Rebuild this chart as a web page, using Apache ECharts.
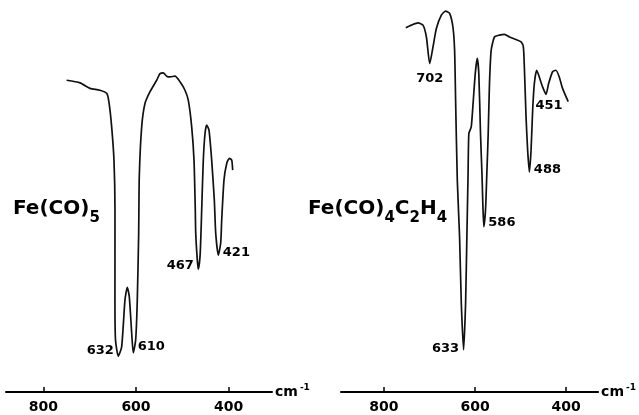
<!DOCTYPE html>
<html>
<head>
<meta charset="utf-8">
<script src="https://cdn.jsdelivr.net/npm/echarts@6/dist/echarts.min.js"></script>
<style>
html,body{margin:0;padding:0;background:#fff}
#chart{width:639px;height:415px}
</style>
</head>
<body>
<div id="chart"></div>
<script>
// Fe(CO)5 trace: wavenumber (cm-1) / transmittance (arbitrary %)
const feco5Wn = [750, 721, 699.5, 678, 663, 658, 652.6, 647.6, 645.4, 645.5, 644.3, 638.3, 631, 623.8, 618.8, 614.5, 609.3, 605.9, 600.7, 597.2, 594.2, 592.9, 587.7, 580.6, 569.7, 555.3, 548.1, 541, 533.6, 526.5, 515.7, 504.9, 494.1, 487, 479.6, 474.6, 471.8, 470.9, 467.5, 465.3, 461.6, 459.5, 458, 454.5, 450.8, 447.2, 442.2, 436.4, 430.7, 427.7, 422.1, 416.9, 414.7, 409.8, 403.9, 398.3, 393.1, 391]
const feco5T = [84.3, 83.6, 82.1, 81.6, 80.7, 78.0, 71.7, 62.7, 49.2, 24.9, 14.1, 9.7, 12.2, 24.9, 28.3, 25.8, 15.9, 10.6, 14.1, 24.9, 43.0, 58.2, 71.7, 78.0, 81.2, 84.3, 86.1, 86.3, 85.4, 85.2, 85.4, 83.9, 81.6, 78.9, 71.7, 62.7, 49.2, 43.0, 35.7, 33.2, 36.6, 43.0, 49.2, 62.7, 69.9, 72.2, 70.8, 62.7, 51.9, 43.0, 37.0, 40.3, 46.5, 57.3, 61.8, 63.2, 62.7, 60.0]

// Fe(CO)4C2H4 trace
const feco4Wn = [751.9, 739.4, 725, 714.1, 706.7, 699.4, 692.2, 684.8, 673.9, 664.5, 655.7, 648.5, 644.8, 642.6, 638.9, 633.9, 630.1, 625.1, 620.7, 617.9, 615.3, 613.5, 608.3, 604.8, 599.5, 595.2, 591.7, 588, 584.7, 582.9, 580.7, 577, 574.2, 571.1, 568.3, 564.6, 557.4, 546.4, 535.5, 524.6, 509.9, 499, 494, 491.8, 488.1, 484.6, 480.8, 477.1, 473.6, 469.9, 464.9, 460.5, 451.8, 444.3, 438.6, 429.9, 422.5, 415.3, 408, 395.6]
const feco4T = [98.5, 99.2, 99.8, 99.2, 96.0, 88.8, 93.3, 98.3, 101.9, 103.0, 102.4, 98.7, 92.4, 78.9, 57.3, 42.0, 24.0, 11.4, 24.0, 42.0, 58.7, 69.9, 71.7, 77.1, 86.1, 90.2, 86.1, 69.9, 58.7, 51.0, 44.7, 49.2, 58.7, 69.9, 83.4, 92.4, 96.0, 96.5, 96.7, 96.0, 95.3, 94.7, 93.3, 87.9, 74.4, 65.4, 59.5, 65.4, 76.2, 83.4, 87.0, 85.7, 82.5, 80.5, 83.4, 86.6, 87.0, 85.2, 82.1, 78.5]

const axisTicks = [800, 600, 400]

const feco5PeakNames = ['632', '610', '467', '421']
const feco5PeakWn = [638.3, 605.9, 465.3, 422.1]
const feco5PeakT = [9.7, 10.6, 33.2, 37.0]

const feco4PeakNames = ['702', '633', '586', '488', '451']
const feco4PeakWn = [699.4, 625.1, 580.7, 480.8, 444.3]
const feco4PeakT = [88.8, 11.4, 44.7, 59.5, 80.5]

const font = 'DejaVu Sans'

// label placement for each peak, same order as the name arrays
const feco5Place = [
    {position: 'left', offset: [0, -6]},
    {position: 'right', offset: [0, -6]},
    {position: 'left', offset: [0, -4]},
    {position: 'right', offset: [0, -3]},
]
const feco4Place = [
    {position: 'bottom', distance: 8, offset: [0, 0]},
    {position: 'left', offset: [0, -1]},
    {position: 'right', offset: [0, -4]},
    {position: 'right', offset: [0, -2]},
    {position: 'bottom', distance: 4, offset: [3, 0]},
]

function peakMarks(names, wn, t, place){
    return names.map((n, i) => ({
        name: n,
        coord: [wn[i], t[i]],
        label: Object.assign({distance: 4}, place[i])
    }))
}

function xAxisOf(idx, min, max){
    return {
        gridIndex: idx,
        type: 'value',
        inverse: true,
        min: min,
        max: max,
        splitLine: {show: false},
        axisLine: {lineStyle: {color: '#000', width: 2}},
        axisTick: {
            inside: true,
            length: 5,
            customValues: axisTicks,
            lineStyle: {color: '#000', width: 1.5}
        },
        axisLabel: {
            customValues: axisTicks,
            margin: 8,
            color: '#000',
            fontFamily: font,
            fontWeight: 'bold',
            fontSize: 14
        },
        name: '{a|cm}{b|-1}',
        nameLocation: 'start',
        nameGap: 3,
        nameTextStyle: {
            rich: {
                a: {fontFamily: font, fontWeight: 'bold', fontSize: 14, color: '#000'},
                b: {fontFamily: font, fontWeight: 'bold', fontSize: 9, color: '#000', padding: [0, 0, 8, 2]}
            }
        }
    }
}

function lineOf(idx, wn, t, names, pwn, pt, place){
    return {
        type: 'line',
        xAxisIndex: idx,
        yAxisIndex: idx,
        data: wn.map((w, i) => [w, t[i]]),
        showSymbol: false,
        smooth: 0.2,
        lineStyle: {color: '#111', width: 1.7},
        markPoint: {
            symbol: 'circle',
            symbolSize: 1,
            itemStyle: {color: 'rgba(0,0,0,0)'},
            label: {
                show: true,
                formatter: '{b}',
                color: '#000',
                fontFamily: font,
                fontWeight: 'bold',
                fontSize: 13
            },
            data: peakMarks(names, pwn, pt, place)
        }
    }
}

const subRich = {
    a: {fontFamily: font, fontWeight: 'bold', fontSize: 20, color: '#000'},
    s: {fontFamily: font, fontWeight: 'bold', fontSize: 15, color: '#000', padding: [19, 0, 0, 0]}
}

const option = {
    animation: false,
    backgroundColor: '#fff',
    title: [
        {text: '{a|Fe(CO)}{s|5}', left: 13, top: 192, padding: 0, textStyle: {rich: subRich}},
        {text: '{a|Fe(CO)}{s|4}{a|C}{s|2}{a|H}{s|4}', left: 308, top: 192, padding: 0, textStyle: {rich: subRich}}
    ],
    grid: [
        {left: 6, right: 367, top: 0, bottom: 23},
        {left: 341, right: 40, top: 0, bottom: 23}
    ],
    xAxis: [xAxisOf(0, 306, 881), xAxisOf(1, 330, 894)],
    yAxis: [
        {gridIndex: 0, type: 'value', min: 0, max: 106, show: false},
        {gridIndex: 1, type: 'value', min: 0, max: 106, show: false}
    ],
    series: [
        lineOf(0, feco5Wn, feco5T, feco5PeakNames, feco5PeakWn, feco5PeakT, feco5Place),
        lineOf(1, feco4Wn, feco4T, feco4PeakNames, feco4PeakWn, feco4PeakT, feco4Place)
    ]
}

const myChart = echarts.init(document.getElementById('chart'))
myChart.setOption(option)
</script>
</body>
</html>
